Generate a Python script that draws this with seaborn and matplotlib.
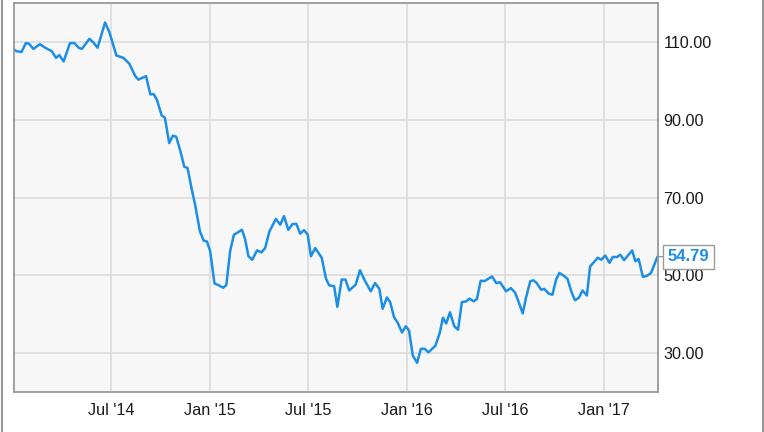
import pandas as pd
import seaborn as sns
from matplotlib import pyplot as plt
from matplotlib.lines import Line2D

# weekly closes
dates = [
    '2014-01-02', '2014-01-07', '2014-01-16', '2014-01-24', '2014-01-30', '2014-02-07',
    '2014-02-19', '2014-03-01', '2014-03-13', '2014-03-21', '2014-03-27', '2014-04-04',
    '2014-04-16', '2014-04-24', '2014-05-02', '2014-05-08', '2014-05-22', '2014-05-29',
    '2014-06-06', '2014-06-20', '2014-06-28', '2014-07-11', '2014-07-24', '2014-08-04',
    '2014-08-15', '2014-08-21', '2014-09-04', '2014-09-12', '2014-09-18', '2014-09-24',
    '2014-10-03', '2014-10-09', '2014-10-17', '2014-10-24', '2014-10-30', '2014-11-06',
    '2014-11-14', '2014-11-20', '2014-11-28', '2014-12-04', '2014-12-13', '2014-12-20',
    '2014-12-26', '2015-01-01', '2015-01-09', '2015-01-16', '2015-01-25', '2015-01-31',
    '2015-02-07', '2015-02-14', '2015-03-01', '2015-03-07', '2015-03-13', '2015-03-20',
    '2015-03-29', '2015-04-06', '2015-04-13', '2015-04-21', '2015-05-03', '2015-05-11',
    '2015-05-18', '2015-05-26', '2015-06-03', '2015-06-10', '2015-06-17', '2015-06-24',
    '2015-07-01', '2015-07-07', '2015-07-15', '2015-07-27', '2015-08-04', '2015-08-10',
    '2015-08-19', '2015-08-25', '2015-09-02', '2015-09-09', '2015-09-16', '2015-09-28',
    '2015-10-06', '2015-10-14', '2015-10-26', '2015-11-03', '2015-11-11', '2015-11-17',
    '2015-11-25', '2015-12-01', '2015-12-08', '2015-12-15', '2015-12-23', '2015-12-30',
    '2016-01-05', '2016-01-12', '2016-01-20', '2016-01-27', '2016-02-03', '2016-02-10',
    '2016-02-23', '2016-03-02', '2016-03-08', '2016-03-14', '2016-03-21', '2016-03-29',
    '2016-04-05', '2016-04-12', '2016-04-20', '2016-04-26', '2016-05-04', '2016-05-10',
    '2016-05-17', '2016-05-24', '2016-06-07', '2016-06-15', '2016-06-22', '2016-07-03',
    '2016-07-12', '2016-07-20', '2016-07-26', '2016-08-03', '2016-08-09', '2016-08-17',
    '2016-08-23', '2016-08-29', '2016-09-06', '2016-09-12', '2016-09-20', '2016-09-27',
    '2016-10-04', '2016-10-10', '2016-10-18', '2016-10-25', '2016-11-02', '2016-11-08',
    '2016-11-15', '2016-11-22', '2016-11-30', '2016-12-06', '2016-12-12', '2016-12-20',
    '2016-12-27', '2017-01-03', '2017-01-11', '2017-01-17', '2017-01-25', '2017-01-31',
    '2017-02-07', '2017-02-22', '2017-02-28', '2017-03-06', '2017-03-14', '2017-03-22',
    '2017-03-29', '2017-04-10',
]
prices = [
    108.0, 107.6, 107.4, 109.7, 109.5, 108.2,
    109.4, 108.5, 107.6, 105.9, 106.6, 105.0,
    109.7, 109.7, 108.5, 108.2, 110.8, 109.9,
    108.5, 115.0, 112.5, 106.5, 105.9, 104.4,
    101.2, 100.3, 101.2, 96.5, 96.6, 95.2,
    91.1, 90.5, 84.0, 85.9, 85.6, 82.3,
    77.9, 77.6, 72.0, 68.2, 61.3, 58.9,
    58.7, 56.2, 47.9, 47.5, 46.8, 47.5,
    56.2, 60.4, 61.7, 59.2, 54.9, 54.0,
    56.4, 55.9, 57.0, 61.3, 64.5, 63.0,
    65.2, 61.7, 63.2, 63.2, 60.7, 61.6,
    60.5, 54.9, 57.0, 54.5, 49.1, 47.4,
    47.2, 41.9, 48.9, 48.9, 46.1, 47.6,
    51.3, 48.9, 45.9, 48.0, 46.5, 41.4,
    44.3, 43.1, 39.3, 37.8, 35.3, 36.9,
    35.8, 29.4, 27.5, 31.1, 31.1, 30.2,
    31.9, 35.2, 39.1, 37.6, 40.5, 36.9,
    36.0, 43.1, 43.3, 44.0, 43.3, 43.9,
    48.6, 48.5, 49.7, 48.0, 48.2, 45.9,
    46.7, 45.5, 43.3, 40.2, 44.2, 48.5,
    48.7, 48.0, 46.3, 46.5, 45.3, 45.0,
    48.9, 50.6, 49.9, 49.1, 45.5, 43.6,
    44.2, 46.1, 44.8, 52.3, 53.2, 54.5,
    54.0, 55.1, 53.2, 54.7, 54.7, 55.3,
    53.9, 56.4, 53.6, 54.2, 49.6, 49.9,
    50.6, 54.79,
]

tick_dates = ['2014-07-01', '2015-01-01', '2015-07-01', '2016-01-01', '2016-07-01', '2017-01-01']
tick_labels = ["Jul '14", "Jan '15", "Jul '15", "Jan '16", "Jul '16", "Jan '17"]
y_ticks = [30, 50, 70, 90, 110]

df = pd.DataFrame({'date': pd.to_datetime(dates), 'price': prices})

sns.set_style('whitegrid', {
    'axes.facecolor': '#f7f7f7',
    'grid.color': '#dcdcdc',
    'axes.edgecolor': '#999999',
})
plt.rcParams['font.family'] = ['Liberation Sans', 'DejaVu Sans']

fig = plt.figure(figsize=(7.64, 4.32), dpi=100)
ax = fig.add_axes([14 / 764, 1 - 392 / 432, 644 / 764, 389 / 432])

line_color = '#1b8ee8'
sns.lineplot(data=df, x='date', y='price', ax=ax, color=line_color, linewidth=1.8)

ax.set_xlim(pd.Timestamp('2014-01-02'), pd.Timestamp('2017-04-11'))
ax.set_ylim(20, 120)
ax.set_xticks(pd.to_datetime(tick_dates))
ax.set_xticklabels(tick_labels)
ax.set_yticks(y_ticks)
ax.set_yticklabels([f'{v:.2f}' for v in y_ticks])
ax.yaxis.tick_right()
ax.tick_params(axis='both', length=0, labelsize=11.7, colors='#1a1a1a')
ax.tick_params(axis='y', pad=4)
ax.tick_params(axis='x', pad=8)
ax.set_xlabel('')
ax.set_ylabel('')
ax.grid(True, linewidth=1.2)
for s in ax.spines.values():
    s.set_color('#999999')
    s.set_linewidth(1.3)

# last value callout
last = df.iloc[-1]
ax.annotate(f'{last.price:.2f}', xy=(last.date, last.price), xytext=(7.5, 0),
            textcoords='offset points', ha='left', va='center',
            fontsize=12, fontweight='bold', color=line_color, annotation_clip=False,
            bbox=dict(boxstyle='square,pad=0.28', fc='white', ec='#999999', lw=1),
            arrowprops=dict(arrowstyle='-', color='#999999', lw=1, shrinkA=0, shrinkB=0))

# frame lines at the figure edges
fig.add_artist(Line2D([1.5 / 764, 1.5 / 764], [0, 1], transform=fig.transFigure, color='#999999', lw=1.5))
fig.add_artist(Line2D([762.5 / 764, 762.5 / 764], [0, 1], transform=fig.transFigure, color='#999999', lw=1.5))

fig.savefig('out.png', dpi=100)
